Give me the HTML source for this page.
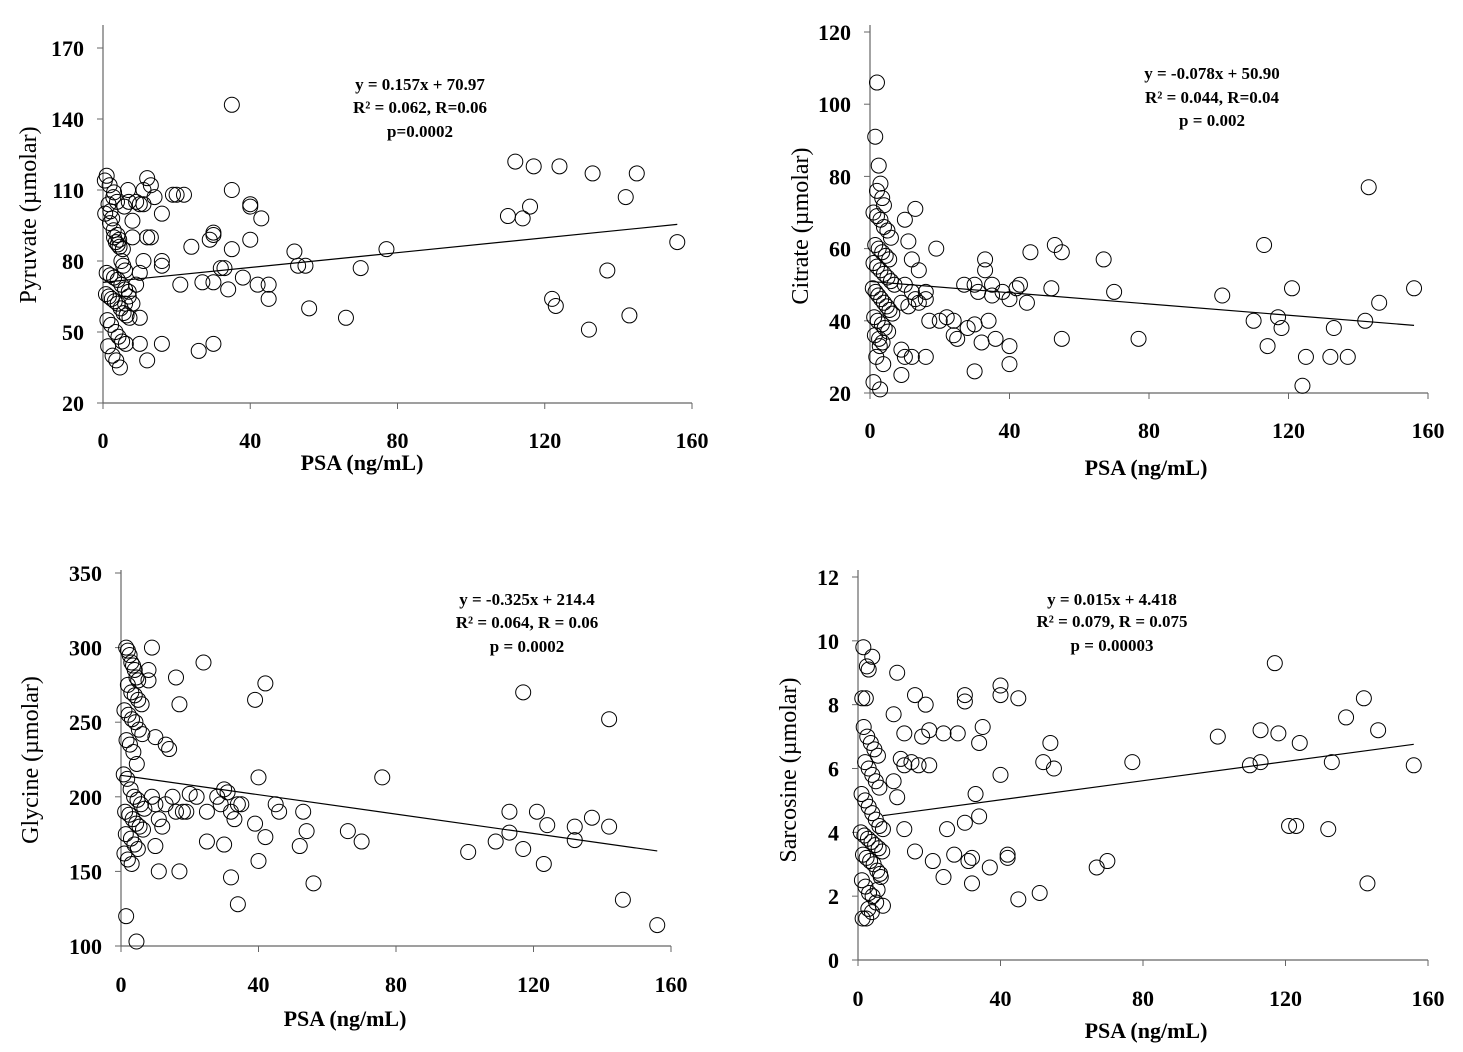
<!DOCTYPE html>
<html><head><meta charset="utf-8"><style>
body{margin:0;background:#fff;}
svg{display:block;font-family:"Liberation Serif",serif;}
.tk{font-size:22px;font-weight:bold;fill:#000;}
.ti{font-size:22px;font-weight:bold;fill:#000;}
.yti{font-size:24px;fill:#000;}
.eq{font-size:17px;font-weight:bold;fill:#000;}
</style></head><body>
<svg id="c" width="1463" height="1052" viewBox="0 0 1463 1052"></svg>
<script>
// Pyruvate
const pyrX=[0.5,1,1.5,2,2.5,3,3.5,4,4.5,5,5.5,6,1,2,3,4,5,6,7,0.8,1.6,2.4,3.2,4,4.8,5.6,6.4,7.2,1.2,2.2,3.4,4.2,5.2,6.2,1.4,2.6,3.6,4.6,2.8,3.8,5.8,6.8,1.8,3,0.6,1.9,2.9,3.9,4.4,5.4,
12,11,13,14,10,9,11,7,8,8,13,12,16,16,16,11,10,9,7,8,6,10,12,10,16,20,19,22,21,24,26,27,29,30,30,30,30,32,33,34,35,35,35,38,40,40,40,42,43,45,45,52,53,55,56,66,70,77,110,112,114,117,116,124,122,123,132,133,137,142,143,145,156];
const pyrY=[114,116,104,101,98,90,88,87,86,80,78,76,75,74,73,72,70,68,67,66,65,64,63,62,60,58,57,56,55,53,50,48,46,45,44,40,38,35,107,105,103,110,112,109,100,96,93,91,89,85,
115,110,112,107,104,105,104,105,97,90,90,90,100,80,78,80,75,70,65,62,62,56,38,45,45,108,108,108,70,86,42,71,89,92,91,71,45,77,77,68,110,85,146,73,89,104,103,70,98,64,70,84,78,78,60,56,77,85,99,122,98,120,103,120,64,61,51,117,76,107,57,117,88];
// Citrate
const citX=[2,1.5,2.5,3,2,3.5,4,1,2,3,4,5,6,1.5,2.5,3.5,4.5,5.5,1,2,3,4,5,6,7,0.8,1.6,2.4,3.2,4,4.8,5.6,6.4,1.2,2.2,3.4,4.2,5.2,1.4,2.6,3.6,2.8,1.8,3.8,1,2.9,
10,11,13,12,14,10,9,11,12,13,14,16,17,16,9,10,9,12,16,19,20,22,24,24,25,27,28,30,30,31,30,32,33,33,34,35,35,36,38,40,40,40,42,43,45,46,52,53,55,55,67,70,77,101,110,113,114,117,118,121,124,125,132,133,137,142,143,146,156];
const citY=[106,91,83,78,76,74,72,70,69,68,66,65,63,61,60,59,58,57,56,55,54,53,52,51,50,49,48,47,46,45,44,43,42,41,40,39,38,37,36,35,34,33,30,28,23,21,
68,62,71,57,54,50,45,44,48,46,45,48,40,46,32,30,25,30,30,60,40,41,40,36,35,50,38,50,39,48,26,34,54,57,40,47,50,35,48,46,33,28,49,50,45,59,49,61,59,35,57,48,35,47,40,61,33,41,38,49,22,30,30,38,30,40,77,45,49];
// Glycine
const glyX=[1.5,2,2.5,3,3.5,4,4.5,5,2,3,4,5,6,1,2.2,3.2,4.2,5.2,6.2,1.6,2.6,3.6,4.6,0.8,1.8,2.8,3.8,4.8,5.8,6.8,1.2,2.4,3.4,4.4,5.4,6.4,1.4,2.9,3.9,4.9,1,2,3.1,1.5,4.5,
9,8,8,10,13,14,16,17,24,39,42,40,76,117,142,9,10,11,12,13,15,16,18,19,20,22,25,25,28,29,30,30,31,32,32,33,34,34,35,39,40,42,45,46,52,53,54,56,66,70,10,11,17,101,109,113,113,117,121,123,124,132,132,137,142,146,156];
const glyY=[300,298,295,290,288,285,280,278,275,270,268,265,262,258,255,252,250,245,242,238,235,230,222,215,212,205,200,198,195,192,190,188,185,182,180,178,175,172,168,165,162,158,155,120,103,
300,285,278,240,235,232,280,262,290,265,276,213,213,270,252,200,195,185,180,195,200,190,190,190,202,200,170,190,200,195,205,168,203,190,146,185,128,195,195,182,157,173,195,190,167,190,177,142,177,170,167,150,150,163,170,176,190,165,190,155,181,180,171,186,180,131,114];
// Sarcosine
const sarX=[1.5,2.5,3,4,1.2,2.2,1.6,2.6,3.6,4.6,5.6,2,3,4,5,6,1,2,3,4,5,6,7,0.8,1.8,2.8,3.8,4.8,5.8,6.8,1.4,2.4,3.4,4.4,5.4,6.4,1.1,2.1,3.1,4.1,5.1,2.9,3.9,1.3,2.3,6.2,7,5.5,
11,10,13,16,18,19,20,12,13,10,11,15,17,20,13,16,21,24,24,25,27,28,30,30,30,31,32,32,33,34,34,35,37,40,40,40,42,42,45,45,51,52,54,55,67,70,77,101,110,113,113,117,118,121,123,124,132,133,137,142,143,146,156];
const sarY=[9.8,9.2,9.1,9.5,8.2,8.2,7.3,7,6.8,6.6,6.4,6.2,6,5.8,5.6,5.4,5.2,5,4.8,4.6,4.4,4.2,4.1,4,3.9,3.8,3.7,3.6,3.5,3.4,3.3,3.2,3.1,3,2.8,2.6,2.5,2.3,2.1,2,1.8,1.6,1.5,1.3,1.3,2.7,1.7,2.2,
9,7.7,7.1,8.3,7,8,7.2,6.3,6.1,5.6,5.1,6.2,6.1,6.1,4.1,3.4,3.1,2.6,7.1,4.1,3.3,7.1,8.3,8.1,4.3,3.1,3.2,2.4,5.2,6.8,4.5,7.3,2.9,8.6,8.3,5.8,3.2,3.3,8.2,1.9,2.1,6.2,6.8,6,2.9,3.1,6.2,7,6.1,7.2,6.2,9.3,7.1,4.2,4.2,6.8,4.1,6.2,7.6,8.2,2.4,7.2,6.1];
const xTicks=[0,40,80,120,160];
const panels=[
 {name:'pyruvate',xs:pyrX,ys:pyrY,x0:103,x1:692,y0:403,y1:48,ymin:20,ymax:170,yt:[20,50,80,110,140,170],top:25,m:0.157,b:70.97,lx0:0,
  yTitle:'Pyruvate (µmolar)',ytx:28,yty:215,xlY:448,xtX:362,xtY:470,eq:['y = 0.157x + 70.97','R² = 0.062, R=0.06','p=0.0002'],eqX:420,eqY:[90,113,137]},
 {name:'citrate',xs:citX,ys:citY,x0:870,x1:1428,y0:393,y1:32,ymin:20,ymax:120,yt:[20,40,60,80,100,120],top:25,m:-0.078,b:50.9,lx0:0,
  yTitle:'Citrate (µmolar)',ytx:800,yty:226,xlY:438,xtX:1146,xtY:475,eq:['y = -0.078x + 50.90','R² = 0.044, R=0.04','p = 0.002'],eqX:1212,eqY:[79,103,126]},
 {name:'glycine',xs:glyX,ys:glyY,x0:121,x1:671,y0:946,y1:573,ymin:100,ymax:350,yt:[100,150,200,250,300,350],top:570,m:-0.325,b:214.4,lx0:0,
  yTitle:'Glycine (µmolar)',ytx:30,yty:760,xlY:992,xtX:345,xtY:1026,eq:['y = -0.325x + 214.4','R² = 0.064, R = 0.06','p = 0.0002'],eqX:527,eqY:[605,628,652]},
 {name:'sarcosine',xs:sarX,ys:sarY,x0:858,x1:1428,y0:960,y1:577,ymin:0,ymax:12,yt:[0,2,4,6,8,10,12],top:570,m:0.015,b:4.418,lx0:7,
  yTitle:'Sarcosine (µmolar)',ytx:788,yty:770,xlY:1006,xtX:1146,xtY:1038,eq:['y = 0.015x + 4.418','R² = 0.079, R = 0.075','p = 0.00003'],eqX:1112,eqY:[605,627,651]}
];
const svg=document.getElementById('c');
const NS='http://www.w3.org/2000/svg';
function mk(t,a,p){const e=document.createElementNS(NS,t);for(const k in a)e.setAttribute(k,a[k]);(p||svg).appendChild(e);return e;}
panels.forEach(P=>{
 const g=mk('g',{});
 
 
 const sx=v=>P.x0+(v-0)/160*(P.x1-P.x0);
 const sy=v=>P.y0-(v-P.ymin)/(P.ymax-P.ymin)*(P.y0-P.y1);
 const ya=mk('line',{x1:P.x0,x2:P.x0,y1:P.top,y2:P.y0,stroke:'#666','stroke-width':1.2},g);
 
 
 const xa=mk('line',{x1:P.x0,x2:P.x1,y1:P.y0,y2:P.y0,stroke:'#666','stroke-width':1.2},g);
 
 
 P.yt.forEach(v=>{
  mk('line',{x1:P.x0-6,x2:P.x0,y1:sy(v),y2:sy(v),stroke:'#666'},g);
  const t=mk('text',{x:P.x0-19,y:sy(v)+8,'text-anchor':'end',class:'tk'},g);t.textContent=v;
  
  
 });
 xTicks.forEach(v=>{
  mk('line',{x1:sx(v),x2:sx(v),y1:P.y0,y2:P.y0+6,stroke:'#666'},g);
  const t=mk('text',{x:sx(v),y:P.xlY,'text-anchor':'middle',class:'tk'},g);t.textContent=v;
  
  
 });
 const xt=mk('text',{x:P.xtX,y:P.xtY,'text-anchor':'middle',class:'ti'},g);xt.textContent='PSA (ng/mL)';
 
 
 const yt=mk('text',{x:P.ytx,y:P.yty,'text-anchor':'middle',class:'yti',transform:`rotate(-90 ${P.ytx} ${P.yty})`,dy:8},g);yt.textContent=P.yTitle;
 
 
 P.eq.forEach((s,i)=>{const t=mk('text',{x:P.eqX,y:P.eqY[i],'text-anchor':'middle',class:'eq'},g);t.textContent=s;
  
  });
 P.xs.forEach((x,i)=>{
  const c=mk('circle',{cx:sx(x),cy:sy(P.ys[i]),r:7.5,fill:'none',stroke:'#000','stroke-width':1},g);
  
  
 });
 const xe=156;
 const tl=mk('line',{x1:sx(P.lx0),y1:sy(P.m*P.lx0+P.b),x2:sx(xe),y2:sy(P.m*xe+P.b),stroke:'#000','stroke-width':1.2},g);
 
 
});
</script>
</body></html>
